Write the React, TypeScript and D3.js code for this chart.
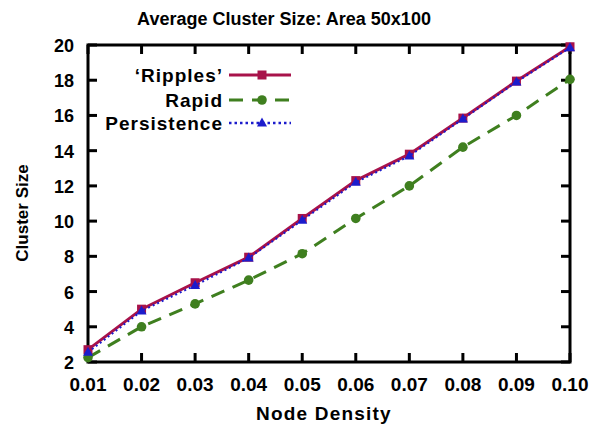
import React from "react";
import * as d3 from "d3";

const densities = [0.01, 0.02, 0.03, 0.04, 0.05, 0.06, 0.07, 0.08, 0.09, 0.1];
const ripples = [2.7, 5.0, 6.5, 7.95, 10.15, 12.3, 13.8, 15.85, 17.95, 19.9];
const rapid = [2.25, 4.0, 5.3, 6.65, 8.15, 10.15, 12.0, 14.2, 16.0, 18.05];
const persistence = [2.55, 4.9, 6.35, 7.9, 10.05, 12.2, 13.7, 15.8, 17.9, 19.85];
const xTicks = [0.01, 0.02, 0.03, 0.04, 0.05, 0.06, 0.07, 0.08, 0.09, 0.1];
const yTicks = [2, 4, 6, 8, 10, 12, 14, 16, 18, 20];

const W = 594, H = 427;
const M = { left: 88, right: 570, top: 45, bottom: 362 };
const font = "Liberation Sans, Arial, sans-serif";

export default function App() {
  const x = d3.scaleLinear().domain([0.01, 0.1]).range([M.left, M.right]);
  const y = d3.scaleLinear().domain([2, 20]).range([M.bottom, M.top]);
  const line = (vals: number[]) =>
    d3.line<number>().x((_, i) => x(densities[i])).y((v) => y(v))(vals) || "";

  const cR = "#a8124a", cG = "#3f7f1f", cB = "#1c1ccc";
  const legendRows = [
    { label: "\u2018Ripples\u2019", color: cR, dash: "none", marker: "sq", ly: 75 },
    { label: "Rapid", color: cG, dash: "14,9", marker: "ci", ly: 100 },
    { label: "Persistence", color: cB, dash: "2.5,3", marker: "tr", ly: 123 },
  ];
  const marker = (type: string, cx: number, cy: number, color: string, key: any) => {
    if (type === "sq") return <rect key={key} x={cx - 4.5} y={cy - 4.5} width={9} height={9} fill={color} />;
    if (type === "ci") return <circle key={key} cx={cx} cy={cy} r={4.8} fill={color} />;
    return <path key={key} d={`M${cx},${cy - 5.5}L${cx + 5},${cy + 3.5}L${cx - 5},${cy + 3.5}Z`} fill={color} />;
  };

  return (
    <svg width={W} height={H} style={{ position: "absolute", left: 0, top: 0, background: "#fff" }}>
      <text x={284} y={25} textAnchor="middle" fontFamily={font} fontWeight="bold" fontSize={18}>
        Average Cluster Size: Area 50x100
      </text>
      {xTicks.map((t, i) => (
        <g key={"xt" + i}>
          <line x1={x(t)} x2={x(t)} y1={M.bottom} y2={M.bottom - 9} stroke="#000" strokeWidth={3} />
          <line x1={x(t)} x2={x(t)} y1={M.top} y2={M.top + 9} stroke="#000" strokeWidth={3} />
          <text x={x(t)} y={391} textAnchor="middle" fontFamily={font} fontWeight="bold" fontSize={19}>
            {t.toFixed(2)}
          </text>
        </g>
      ))}
      {yTicks.map((t, i) => (
        <g key={"yt" + i}>
          <line x1={M.left} x2={M.left + 9} y1={y(t)} y2={y(t)} stroke="#000" strokeWidth={3} />
          <line x1={M.right} x2={M.right - 9} y1={y(t)} y2={y(t)} stroke="#000" strokeWidth={3} />
          <text x={74} y={y(t) + 7} textAnchor="end" fontFamily={font} fontWeight="bold" fontSize={18}>
            {t}
          </text>
        </g>
      ))}
      <rect x={M.left} y={M.top} width={M.right - M.left} height={M.bottom - M.top} fill="none" stroke="#000" strokeWidth={3} />
      <text x={324} y={420} textAnchor="middle" fontFamily={font} fontWeight="bold" fontSize={19} letterSpacing={1.2}>
        Node Density
      </text>
      <text transform={`translate(28,213) rotate(-90)`} textAnchor="middle" fontFamily={font} fontWeight="bold" fontSize={17}>
        Cluster Size
      </text>
      <path d={line(rapid)} fill="none" stroke={cG} strokeWidth={3} strokeDasharray="14,9" />
      {rapid.map((v, i) => marker("ci", x(densities[i]), y(v), cG, "g" + i))}
      <path d={line(ripples)} fill="none" stroke={cR} strokeWidth={3} />
      {ripples.map((v, i) => marker("sq", x(densities[i]), y(v), cR, "r" + i))}
      <path d={line(persistence)} fill="none" stroke={cB} strokeWidth={2} strokeDasharray="2,3" />
      {persistence.map((v, i) => marker("tr", x(densities[i]), y(v), cB, "b" + i))}
      {legendRows.map((r, i) => (
        <g key={"l" + i}>
          <text x={223} y={r.ly + 7} textAnchor="end" fontFamily={font} fontWeight="bold" fontSize={19} letterSpacing={1}>
            {r.label}
          </text>
          <line x1={229} x2={291} y1={r.ly} y2={r.ly} stroke={r.color} strokeWidth={r.marker === "tr" ? 2.5 : 3} strokeDasharray={r.dash === "none" ? undefined : r.dash} />
          {marker(r.marker, 262, r.ly, r.color, "lm" + i)}
        </g>
      ))}
    </svg>
  );
}
